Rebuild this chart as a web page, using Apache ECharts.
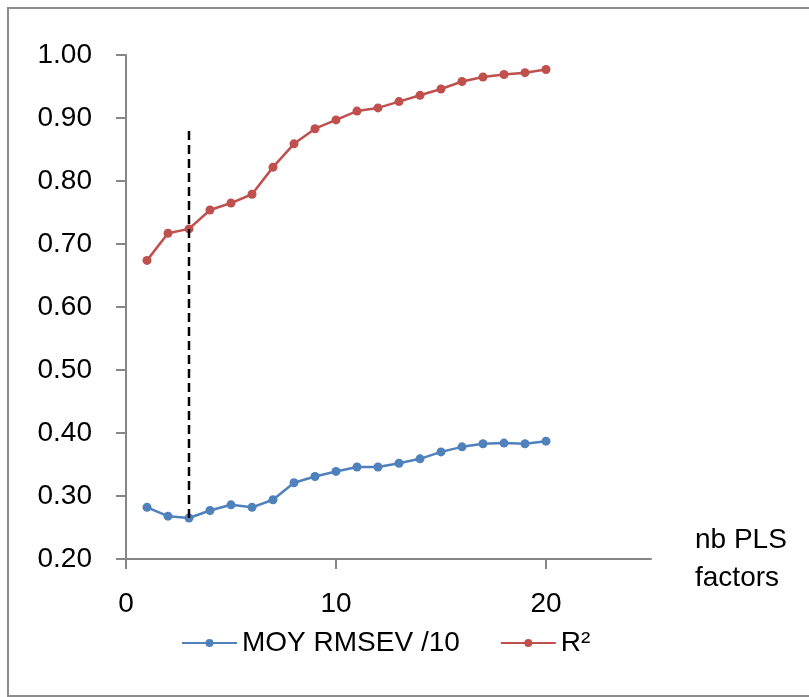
<!DOCTYPE html>
<html>
<head>
<meta charset="utf-8">
<script src="https://cdn.jsdelivr.net/npm/echarts@6/dist/echarts.min.js"></script>
<style>
html,body{margin:0;padding:0;background:#fff;}
#frame{position:absolute;left:7px;top:7px;width:820px;height:690px;border:2px solid #8c8c8c;box-sizing:border-box;}
#main{position:absolute;left:0;top:0;width:809px;height:697px;}
</style>
</head>
<body>
<div id="frame"></div>
<div id="main"></div>
<script>
var factors = [1,2,3,4,5,6,7,8,9,10,11,12,13,14,15,16,17,18,19,20];
var rmsev = [0.282,0.268,0.265,0.277,0.286,0.282,0.294,0.321,0.331,0.339,0.346,0.346,0.352,0.359,0.370,0.378,0.383,0.384,0.383,0.387];
var r2 = [0.674,0.717,0.724,0.754,0.765,0.779,0.822,0.859,0.883,0.897,0.911,0.916,0.926,0.936,0.946,0.958,0.965,0.969,0.972,0.977];
var cutX = [3,3];
var cutY = [0.265,0.886];
var xTicks = [0,10,20];

var pairs = function(xs,ys){
	var out = [];
	for(var i = 0; i < xs.length; i++){
		out.push([xs[i],ys[i]]);
	}
	return out;
};

var myChart = echarts.init(document.getElementById('main'));
var font = 'Liberation Sans';
var axisGray = '#868686';

var option = {
	animation:false,
	textStyle:{fontFamily:font},
	grid:{left:126,right:158,top:55,bottom:138,containLabel:false},
	legend:{
		left:176,
		top:624,
		itemWidth:55,
		itemHeight:10,
		itemGap:40,
		textStyle:{fontSize:28,color:'#000',fontFamily:font},
		data:['MOY RMSEV /10','R²']
	},
	xAxis:{
		type:'value',
		min:0,
		max:25,
		interval:10,
		splitLine:{show:false},
		axisLine:{lineStyle:{color:axisGray,width:2}},
		axisTick:{show:true,length:10,lineStyle:{color:axisGray,width:2},customValues:xTicks},
		axisLabel:{fontSize:28,color:'#000',margin:31,customValues:xTicks},
		name:'nb PLS\nfactors',
		nameLocation:'end',
		nameGap:44,
		nameTextStyle:{fontSize:28,color:'#000',lineHeight:38,align:'left',verticalAlign:'middle',padding:[22,0,0,0]}
	},
	yAxis:{
		type:'value',
		min:0.2,
		max:1.0,
		interval:0.1,
		splitLine:{show:false},
		axisLine:{show:true,lineStyle:{color:axisGray,width:2}},
		axisTick:{show:true,length:10,lineStyle:{color:axisGray,width:2}},
		axisLabel:{fontSize:28,color:'#000',margin:34,formatter:function(v){return v.toFixed(2);}}
	},
	series:[
		{
			name:'MOY RMSEV /10',
			type:'line',
			data:pairs(factors,rmsev),
			symbol:'circle',
			symbolSize:9,
			itemStyle:{color:'#4F81BD'},
			lineStyle:{color:'#4F81BD',width:2.5}
		},
		{
			name:'R²',
			type:'line',
			data:pairs(factors,r2),
			symbol:'circle',
			symbolSize:9,
			itemStyle:{color:'#C0504D'},
			lineStyle:{color:'#C0504D',width:2.5}
		},
		{
			name:'cut',
			type:'line',
			data:pairs(cutX,cutY),
			symbol:'none',
			silent:true,
			lineStyle:{color:'#000',width:2.5,type:[9,5]},
			z:5
		}
	]
};

myChart.setOption(option);
</script>
</body>
</html>
